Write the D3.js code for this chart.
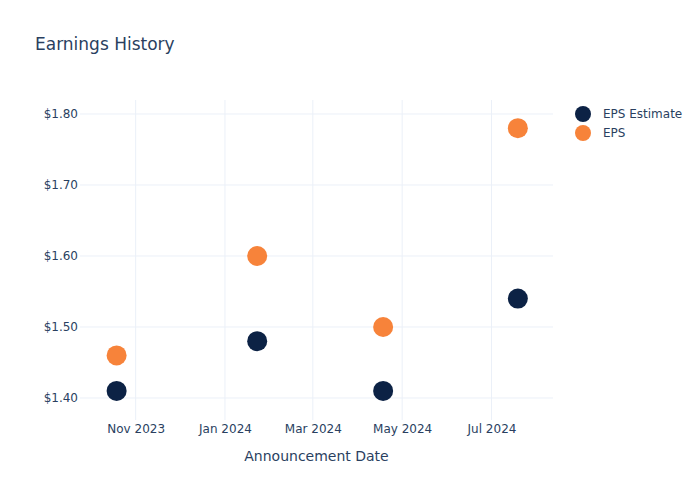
<!DOCTYPE html>
<html><head><meta charset="utf-8">
<script src="https://cdn.jsdelivr.net/npm/d3@7"></script>
<style>body{margin:0;background:#fff;} text{font-family:"DejaVu Sans",sans-serif;}</style>
</head><body>
<svg id="c" width="700" height="500"></svg>
<script>
const dates = ["2023-10-19","2024-01-23","2024-04-18","2024-07-19"];
const epsEstimate = [1.41, 1.48, 1.41, 1.54];
const eps = [1.46, 1.60, 1.50, 1.78];
const yTicks = [1.40, 1.50, 1.60, 1.70, 1.80];
const xTicks = ["2023-11-01","2024-01-01","2024-03-01","2024-05-01","2024-07-01"];
const seriesNames = ["EPS Estimate","EPS"];
const colors = ["#0c2245","#f7833a"];

const parse = d3.utcParse("%Y-%m-%d");
const svg = d3.select("#c");
const L=80, R=553, T=100, B=420;
const x = d3.scaleUtc().domain([parse("2023-09-24"), parse("2024-08-12")]).range([L,R]);
const y = d3.scaleLinear().domain([1.369, 1.8197]).range([B,T]);
const textColor = "#2a3f5f", grid = "#ebf0f8";

// grid
svg.append("g").selectAll("line").data(xTicks).join("line")
  .attr("x1",d=>x(parse(d))).attr("x2",d=>x(parse(d))).attr("y1",T).attr("y2",B)
  .attr("stroke",grid).attr("stroke-width",1);
svg.append("g").selectAll("line").data(yTicks).join("line")
  .attr("x1",L).attr("x2",R).attr("y1",d=>y(d)).attr("y2",d=>y(d))
  .attr("stroke",grid).attr("stroke-width",1);

// axes via d3
const xAxis = d3.axisBottom(x).tickValues(xTicks.map(parse)).tickFormat(d3.utcFormat("%b %Y")).tickSize(0).tickPadding(4);
const gx = svg.append("g").attr("transform",`translate(0,${B})`).call(xAxis);
gx.select(".domain").remove();
gx.selectAll("text").attr("fill",textColor).style("font-size","12px");

const yAxis = d3.axisLeft(y).tickValues(yTicks).tickFormat(d=>"$"+d.toFixed(2)).tickSize(0).tickPadding(2);
const gy = svg.append("g").attr("transform",`translate(${L},0)`).call(yAxis);
gy.select(".domain").remove();
gy.selectAll("text").attr("fill",textColor).style("font-size","12px");

// points
const series = [epsEstimate, eps];
series.forEach((vals,i)=>{
  svg.append("g").selectAll("circle").data(vals).join("circle")
    .attr("cx",(d,j)=>x(parse(dates[j]))).attr("cy",d=>y(d)).attr("r",10)
    .attr("fill",colors[i]);
});

// title
svg.append("text").attr("x",35).attr("y",50).text("Earnings History")
  .attr("fill",textColor).style("font-size","17px");
// x title
svg.append("text").attr("x",(L+R)/2).attr("y",461).attr("text-anchor","middle")
  .text("Announcement Date").attr("fill",textColor).style("font-size","14px");

// legend
const lg = svg.append("g");
seriesNames.forEach((n,i)=>{
  lg.append("circle").attr("cx",583).attr("cy",114+19*i).attr("r",8).attr("fill",colors[i]);
  lg.append("text").attr("x",603).attr("y",118+19*i).text(n).attr("fill",textColor).style("font-size","12px");
});
</script>
</body></html>
